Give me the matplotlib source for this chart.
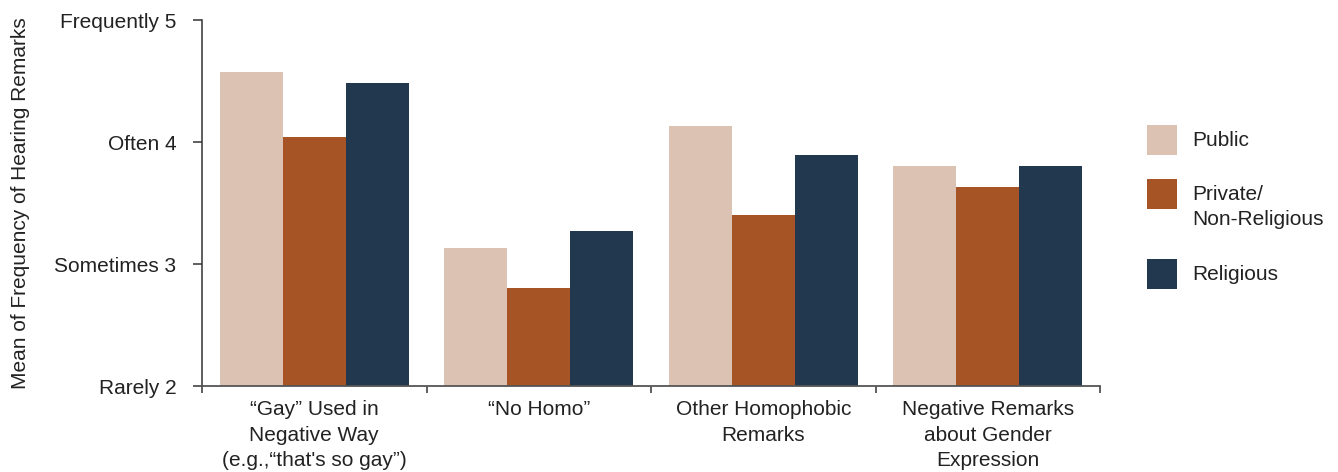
import matplotlib
matplotlib.use("Agg")
import matplotlib.pyplot as plt
import numpy as np
from matplotlib.patches import Rectangle

plt.rcParams['font.family'] = ['Liberation Sans', 'DejaVu Sans']

categories = ["\u201cGay\u201d Used in\nNegative Way\n(e.g.,\u201cthat's so gay\u201d)",
              "\u201cNo Homo\u201d",
              "Other Homophobic\nRemarks",
              "Negative Remarks\nabout Gender\nExpression"]
series_names = ["Public", "Private/\nNon-Religious", "Religious"]
public = [4.57, 3.13, 4.13, 3.80]
private = [4.04, 2.80, 3.40, 3.63]
religious = [4.48, 3.27, 3.89, 3.80]
ytick_values = [2, 3, 4, 5]
ytick_labels = ["Rarely 2", "Sometimes 3", "Often 4", "Frequently 5"]
colors = ["#dbc2b2", "#a65426", "#22384f"]
text_color = "#222222"

fig = plt.figure(figsize=(13.38, 4.72), dpi=100)
W, H = 1338, 472
ax = fig.add_axes([202 / W, 1 - 386 / H, (1100 - 202) / W, (386 - 20) / H])

x = np.arange(len(categories))
width = 0.28
for i, (vals, c) in enumerate(zip([public, private, religious], colors)):
    ax.bar(x + (i - 1) * width, np.array(vals) - 2, width, bottom=2, color=c, linewidth=0)

ax.set_xlim(-0.5, len(categories) - 0.5)
ax.set_ylim(2, 5)
ax.set_yticks(ytick_values)
ax.set_yticklabels(ytick_labels, fontsize=15, color=text_color)
ax.tick_params(axis='y', length=6.5, width=1.1, color='#333333', pad=12)

ax.set_xticks(x)
ax.set_xticklabels(categories, fontsize=15, color=text_color, linespacing=1.45)
ax.set_xticks(np.arange(-0.5, len(categories)), minor=True)
ax.tick_params(axis='x', which='major', length=0, pad=10)
ax.tick_params(axis='x', which='minor', length=5, width=1.1, color='#333333')

for s in ['top', 'right']:
    ax.spines[s].set_visible(False)
ax.spines['left'].set_color('#333333')
ax.spines['left'].set_linewidth(1.1)
ax.spines['bottom'].set_color('#555555')
ax.spines['bottom'].set_linewidth(1.3)

fig.text(21 / W, 1 - 203 / H, "Mean of Frequency of Hearing Remarks", rotation=90,
         ha='center', va='center', fontsize=15, color=text_color)

# legend
square_tops = [125, 179, 259]
for name, c, top in zip(series_names, colors, square_tops):
    fig.add_artist(Rectangle((1147 / W, 1 - (top + 30) / H), 30 / W, 30 / H,
                             transform=fig.transFigure, color=c, linewidth=0))
    if '\n' in name:
        fig.text(1192 / W, 1 - (top + 6) / H, name, ha='left', va='top',
                 fontsize=15, color=text_color, linespacing=1.4)
    else:
        fig.text(1192 / W, 1 - (top + 15) / H, name, ha='left', va='center',
                 fontsize=15, color=text_color)

fig.savefig("out.png", dpi=100)
